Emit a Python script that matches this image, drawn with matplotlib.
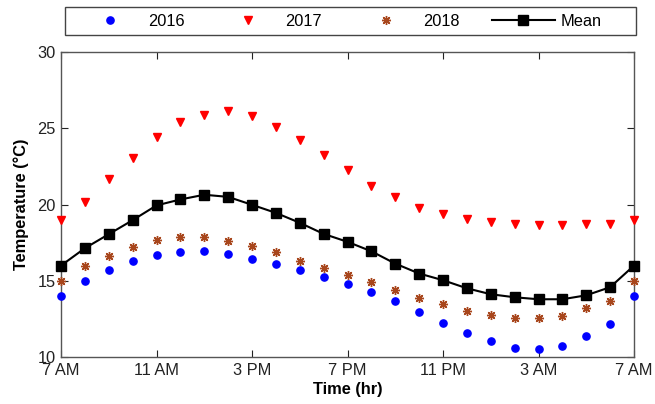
import numpy as np
import matplotlib
matplotlib.use("Agg")
import matplotlib.pyplot as plt
from matplotlib.patches import Rectangle

plt.rcParams['font.family'] = ['Liberation Sans', 'DejaVu Sans']

# Hourly readings from 7 AM to 7 AM next day
hours = np.arange(25)
tick_positions = [0, 4, 8, 12, 16, 20, 24]
tick_labels = ['7 AM', '11 AM', '3 PM', '7 PM', '11 PM', '3 AM', '7 AM']

t2016 = [14.0, 15.0, 15.7, 16.33, 16.68, 16.9, 16.97, 16.77, 16.46, 16.11, 15.7, 15.26, 14.82,
         14.25, 13.68, 12.96, 12.23, 11.6, 11.03, 10.61, 10.53, 10.7, 11.4, 12.17, 14.0]
t2017 = [18.98, 20.16, 21.7, 23.06, 24.41, 25.42, 25.9, 26.12, 25.82, 25.12, 24.24, 23.25, 22.27,
         21.24, 20.47, 19.81, 19.38, 19.09, 18.87, 18.74, 18.67, 18.67, 18.7, 18.76, 18.98]
t2018 = [15.0, 15.96, 16.62, 17.23, 17.71, 17.89, 17.89, 17.62, 17.27, 16.86, 16.31, 15.83, 15.41,
         14.91, 14.4, 13.9, 13.46, 13.02, 12.74, 12.54, 12.54, 12.69, 13.2, 13.68, 15.0]
t_mean = [16.0, 17.14, 18.06, 18.98, 19.95, 20.34, 20.65, 20.51, 19.99, 19.46, 18.81, 18.08, 17.56,
          16.94, 16.13, 15.48, 15.04, 14.51, 14.12, 13.92, 13.79, 13.79, 14.05, 14.58, 16.0]

W, H = 655, 404
fig = plt.figure(figsize=(W / 100, H / 100), dpi=100)
ax = fig.add_axes([61 / W, 1 - 357 / H, 573 / W, 304.7 / H])

fs = 11.8
ax.plot(hours, t2016, linestyle='none', marker='o', ms=5.2, color='#0000ff', mec='#0000ff',
        label='2016', clip_on=False, zorder=3)
ax.plot(hours, t2017, linestyle='none', marker='v', ms=6.0, color='#ff0000', mec='#ff0000',
        label='2017', clip_on=False, zorder=3)
ax.plot(hours, t2018, linestyle='none', marker=(8, 2, 0), ms=6.5, mew=1.0, color='#a8461c',
        label='2018', clip_on=False, zorder=3)
ax.plot(hours, t_mean, color='black', lw=1.5, marker='s', ms=7.5, label='Mean',
        clip_on=False, zorder=4)

ax.set_xlim(0, 24)
ax.set_ylim(10, 30)
ax.set_xticks(tick_positions)
ax.set_xticklabels(tick_labels)
ax.set_yticks([10, 15, 20, 25, 30])

ax.tick_params(direction='in', length=5, width=0.8, top=True, right=True,
               labelsize=fs, colors='#222222', pad=4)
for s in ax.spines.values():
    s.set_color('#555555')
    s.set_linewidth(1.0)

ax.set_xlabel('Time (hr)', fontsize=fs, fontweight='bold', labelpad=3)
ax.set_ylabel('Temperature (°C)', fontsize=fs, fontweight='bold', labelpad=6)

# Legend row above the axes, with its own rectangular frame
fig.legend(loc='center left', ncol=4, bbox_to_anchor=(79 / W, 1 - 21 / H),
           fontsize=fs, numpoints=1, handlelength=3.84, handletextpad=0.37,
           columnspacing=1.95, borderpad=0, borderaxespad=0, frameon=False)
fig.patches.append(Rectangle((65 / W, 1 - 35 / H), 571 / W, 28 / H,
                             transform=fig.transFigure, fill=False,
                             edgecolor='#444444', linewidth=1.0))

fig.savefig('out.png', dpi=100)
